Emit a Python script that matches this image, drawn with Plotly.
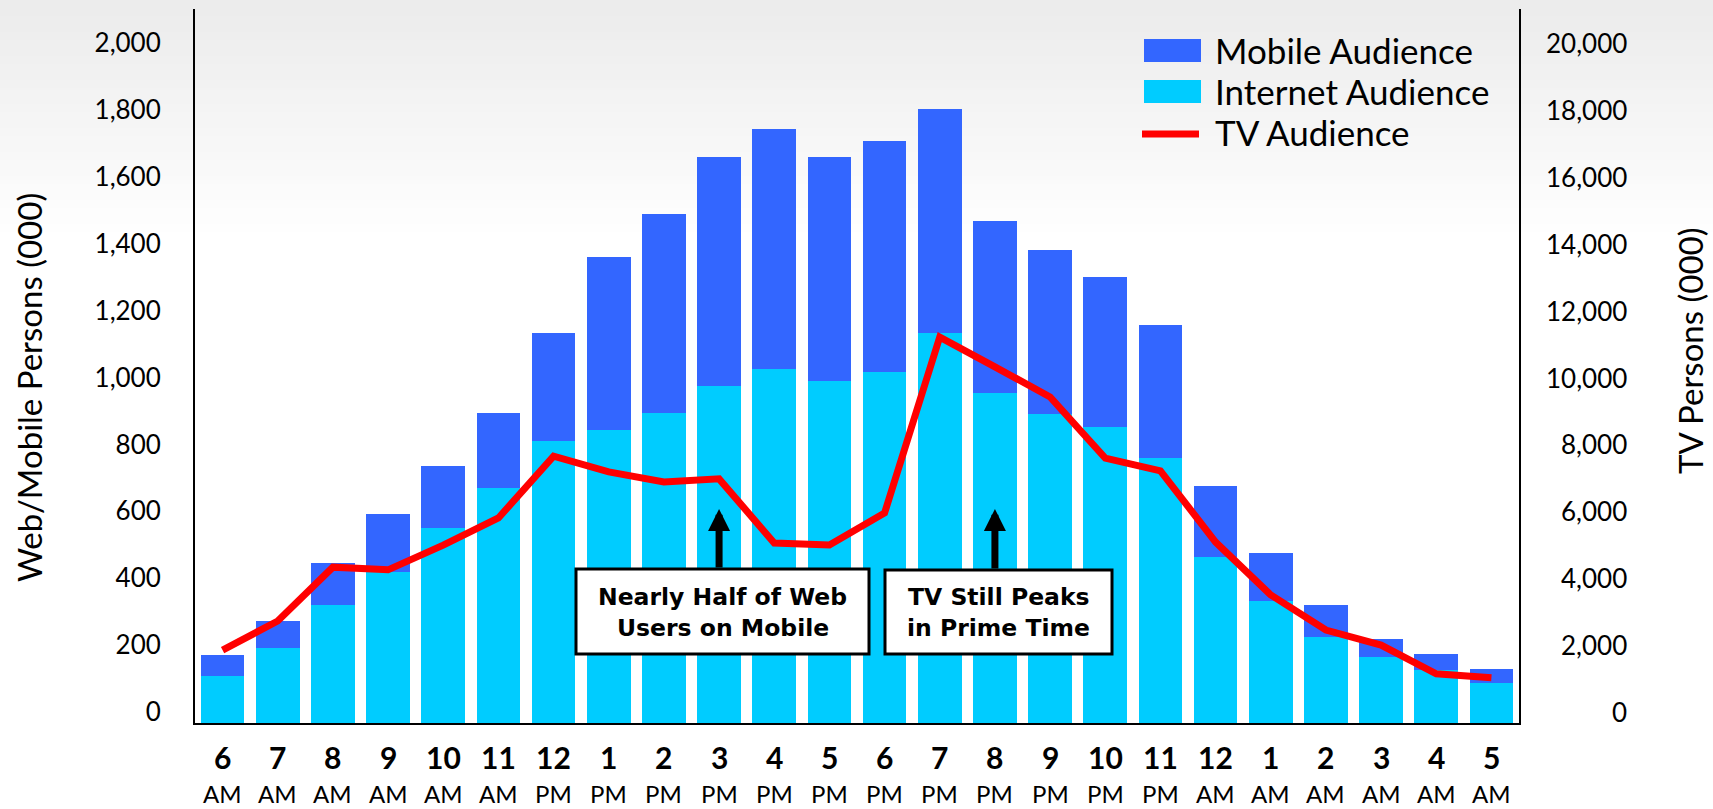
import plotly.graph_objects as go

# ---------------- data ----------------
hour_labels = ["6", "7", "8", "9", "10", "11", "12", "1", "2", "3", "4", "5",
               "6", "7", "8", "9", "10", "11", "12", "1", "2", "3", "4", "5"]
period_labels = ["AM"] * 6 + ["PM"] * 12 + ["AM"] * 6
categories = [f"{h} {p}" for h, p in zip(hour_labels, period_labels)]

internet_audience = [140, 224, 353, 452, 583, 703, 843, 876, 927, 1008, 1059, 1023,
                     1050, 1166, 987, 924, 885, 792, 496, 365, 257, 197, 158, 120]
mobile_audience = [63, 81, 125, 173, 186, 224, 323, 518, 595, 685, 717, 670,
                   690, 670, 514, 490, 449, 398, 213, 143, 96, 54, 48, 41]
tv_audience = [2180, 3050, 4660, 4580, 5320, 6130, 7980, 7510, 7210, 7300, 5380, 5320,
               6280, 11540, 10650, 9750, 7920, 7540, 5410, 3830, 2780, 2330, 1470, 1350]

left_ticks = list(range(0, 2001, 200))
right_ticks = list(range(0, 20001, 2000))

series_names = ["Mobile Audience", "Internet Audience", "TV Audience"]
note_lines = [["Nearly Half of Web", "Users on Mobile"], ["TV Still Peaks", "in Prime Time"]]
note_categories = ["3 PM", "8 PM"]

# ---------------- styling / geometry ----------------
W, H = 1713, 809
L, R, T, B = 195, 1519, 9, 723
PW, PH = R - L, B - T
MOBILE_C = "#3366FF"
INTERNET_C = "#00CCFF"
TV_C = "#FF0000"
FONT = "Lato"
NOTE_FONT = "DejaVu Sans"
Y_TOP = 2135


def px2x(px):
    return (px - L) / PW


def py2y(py):
    return (B - py) / PH


fig = go.Figure()
fig.add_trace(go.Bar(x=categories, y=internet_audience, name=series_names[1],
                     marker=dict(color=INTERNET_C, line=dict(width=0)), yaxis="y"))
fig.add_trace(go.Bar(x=categories, y=mobile_audience, name=series_names[0],
                     marker=dict(color=MOBILE_C, line=dict(width=0)), yaxis="y"))
fig.add_trace(go.Scatter(x=categories, y=tv_audience, name=series_names[2], mode="lines",
                         line=dict(color=TV_C, width=7), yaxis="y2"))

shapes = []
# background gradient (top grey fading to white)
n_bands = 30
for i in range(n_bands):
    c = int(236 + (255 - 236) * i / (n_bands - 1))
    y0 = i * 8
    y1 = y0 + 8
    shapes.append(dict(type="rect", xref="paper", yref="paper",
                       x0=px2x(0), x1=px2x(W), y0=py2y(y1), y1=py2y(y0),
                       fillcolor=f"rgb({c},{c},{c})", line=dict(width=0), layer="below"))

# legend swatches
shapes.append(dict(type="rect", xref="paper", yref="paper", x0=px2x(1144), x1=px2x(1201),
                   y0=py2y(62), y1=py2y(39), fillcolor=MOBILE_C, line=dict(width=0)))
shapes.append(dict(type="rect", xref="paper", yref="paper", x0=px2x(1144), x1=px2x(1201),
                   y0=py2y(103), y1=py2y(80), fillcolor=INTERNET_C, line=dict(width=0)))
shapes.append(dict(type="line", xref="paper", yref="paper", x0=px2x(1142), x1=px2x(1199),
                   y0=py2y(134), y1=py2y(134), line=dict(color=TV_C, width=7)))

# callout boxes
shapes.append(dict(type="rect", xref="paper", yref="paper", x0=px2x(576), x1=px2x(869),
                   y0=py2y(654), y1=py2y(569), fillcolor="white", line=dict(color="black", width=3)))
shapes.append(dict(type="rect", xref="paper", yref="paper", x0=px2x(885), x1=px2x(1112),
                   y0=py2y(654), y1=py2y(570), fillcolor="white", line=dict(color="black", width=3)))

annotations = []
# x-axis labels
for cat, h, p in zip(categories, hour_labels, period_labels):
    annotations.append(dict(x=cat, xref="x", y=py2y(757), yref="paper", text=f"<b>{h}</b>",
                            showarrow=False, font=dict(family=FONT, size=30, color="black"),
                            xanchor="center", yanchor="middle"))
    annotations.append(dict(x=cat, xref="x", y=py2y(793), yref="paper", text=p,
                            showarrow=False, font=dict(family=FONT, size=24, color="black"),
                            xanchor="center", yanchor="middle"))

# right axis tick labels (right aligned)
for v in right_ticks:
    annotations.append(dict(x=px2x(1629), xref="paper", y=v, yref="y2", text=f"{v:,}",
                            showarrow=False, font=dict(family=FONT, size=26, color="black"),
                            xanchor="right", yanchor="middle", yshift=11))

# axis titles
annotations.append(dict(x=px2x(29), xref="paper", y=py2y(388), yref="paper",
                        text="Web/Mobile Persons (000)", textangle=-90, showarrow=False,
                        font=dict(family=FONT, size=33, color="black"),
                        xanchor="center", yanchor="middle"))
annotations.append(dict(x=px2x(1690), xref="paper", y=py2y(350), yref="paper",
                        text="TV Persons (000)", textangle=-90, showarrow=False,
                        font=dict(family=FONT, size=33, color="black"),
                        xanchor="center", yanchor="middle"))

# legend texts
for name, cy in zip(series_names, [50, 91, 132]):
    annotations.append(dict(x=px2x(1213), xref="paper", y=py2y(cy), yref="paper", text=name,
                            showarrow=False, font=dict(family=FONT, size=35, color="black"),
                            xanchor="left", yanchor="middle"))

# callout texts
for lines, cx in zip(note_lines, [722.5, 998.5]):
    for line, cy in zip(lines, [597, 628]):
        annotations.append(dict(x=px2x(cx), xref="paper", y=py2y(cy), yref="paper",
                                text=f"<b>{line}</b>", showarrow=False,
                                font=dict(family=NOTE_FONT, size=23.5, color="black"),
                                xanchor="center", yanchor="middle"))
# callout arrows
for cat, base in zip(note_categories, [569, 570]):
    annotations.append(dict(x=cat, xref="x", y=py2y(509), yref="paper", text="",
                            showarrow=True, ax=0, ay=base - 509, arrowhead=2, arrowwidth=7,
                            arrowsize=0.63, arrowcolor="black", standoff=0))

fig.update_layout(
    width=W, height=H,
    margin=dict(l=L, r=W - R, t=T, b=H - B, pad=0),
    paper_bgcolor="white", plot_bgcolor="rgba(0,0,0,0)",
    barmode="stack", bargap=0.21,
    showlegend=False,
    font=dict(family=FONT, color="black"),
    xaxis=dict(type="category", categoryorder="array", categoryarray=categories,
               range=[-0.5, len(categories) - 0.5], showticklabels=False, ticks="",
               showgrid=False, zeroline=False, showline=True, linecolor="black", linewidth=2),
    yaxis=dict(range=[0, Y_TOP], tickvals=left_ticks, tickformat=",", ticks="",
               showgrid=False, zeroline=False, showline=True, linecolor="black", linewidth=2,
               tickfont=dict(family=FONT, size=26, color="black"),
               ticklabelshift=-11, ticklabelstandoff=27),
    yaxis2=dict(range=[0, Y_TOP * 10], overlaying="y", side="right", showticklabels=False,
                ticks="", showgrid=False, zeroline=False, showline=True, linecolor="black",
                linewidth=2),
    shapes=shapes,
    annotations=annotations,
)

fig.write_html("out.html", config={"displayModeBar": False},
               post_script="document.body.style.margin='0';document.body.style.overflow='hidden';")
